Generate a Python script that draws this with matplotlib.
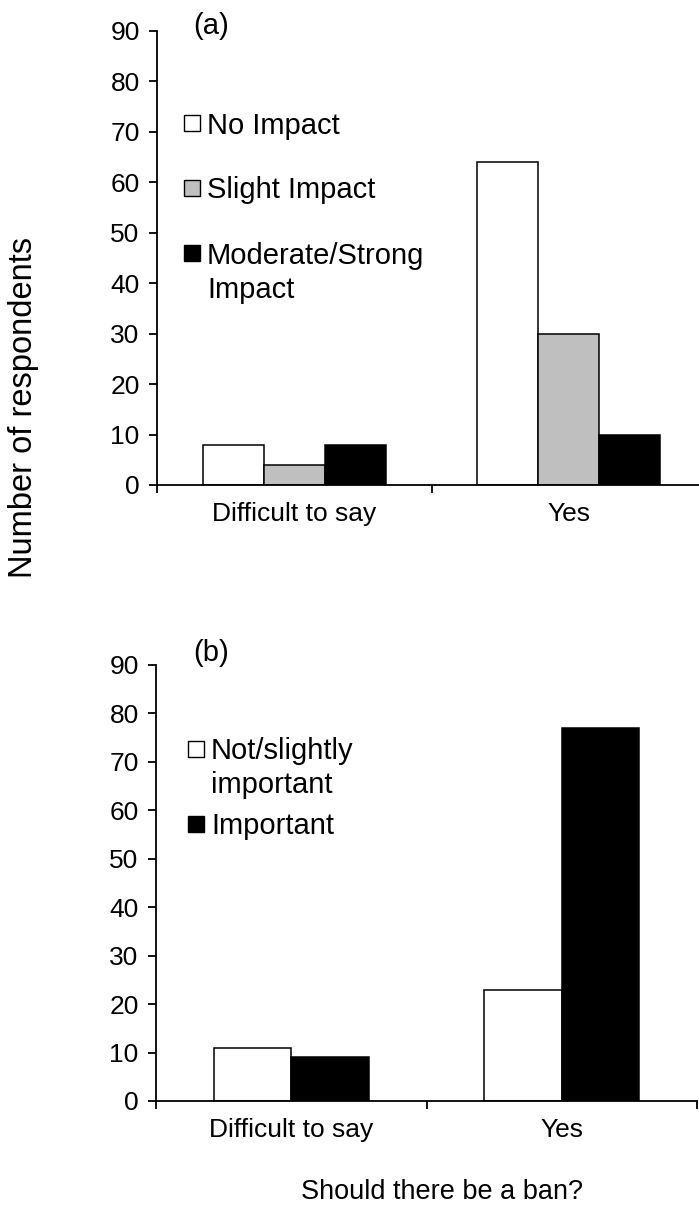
import matplotlib
matplotlib.use("Agg")
import matplotlib.pyplot as plt
from matplotlib.patches import Rectangle
import numpy as np

plt.rcParams['font.family'] = ['Liberation Sans', 'DejaVu Sans']

categories = ["Difficult to say", "Yes"]

# panel (a): impact
impact_labels = ["No Impact", "Slight Impact", "Moderate/Strong\nImpact"]
impact_colors = ["white", "#bfbfbf", "black"]
no_impact = [8, 64]
slight_impact = [4, 30]
strong_impact = [8, 10]

# panel (b): importance
importance_labels = ["Not/slightly\nimportant", "Important"]
importance_colors = ["white", "black"]
not_important = [11, 23]
important = [9, 77]

yticks = list(range(0, 91, 10))

W, H = 699, 1210
LINE_STEP = 34  # px between legend text lines
fig = plt.figure(figsize=(W / 100, H / 100), dpi=100)


def axes_px(left, top, right, bottom):
    ax = fig.add_axes([left / W, 1 - bottom / H, (right - left) / W, (bottom - top) / H])
    ax._px = (left, top, right, bottom)
    return ax


def to_frac(ax, px, py):
    l, t, r, b = ax._px
    return (px - l) / (r - l), (b - py) / (b - t)


def style_axes(ax):
    ax.set_xlim(-0.5, 1.5)
    ax.set_ylim(0, 90)
    ax.set_yticks(yticks)
    ax.set_xticks([-0.5, 0.5, 1.5])
    ax.set_xticklabels([])
    ax.set_xticks([0, 1], minor=True)
    ax.set_xticklabels(categories, minor=True, fontsize=19)
    ax.tick_params(axis='x', which='minor', length=0, pad=12)
    ax.tick_params(axis='x', which='major', length=5.5, width=1.3, direction='out')
    ax.tick_params(axis='y', length=5.5, width=1.3, direction='out', labelsize=19, pad=7)
    for s in ['top', 'right']:
        ax.spines[s].set_visible(False)
    for s in ['left', 'bottom']:
        ax.spines[s].set_linewidth(1.3)
    ax.patch.set_visible(False)


def draw_groups(ax, series, colors):
    n = len(series)
    w = 1 / (n + 1.5)
    x = np.arange(len(categories))
    for i, (vals, c) in enumerate(zip(series, colors)):
        off = (i - (n - 1) / 2) * w
        ax.bar(x + off, vals, width=w, color=c, edgecolor='black', linewidth=1.1, zorder=2)


def draw_legend(ax, labels, colors, sq_x, txt_x, centers):
    for lab, c, cy in zip(labels, colors, centers):
        x0, y0 = to_frac(ax, sq_x, cy + 8)
        x1, y1 = to_frac(ax, sq_x + 16, cy - 8)
        ax.add_patch(Rectangle((x0, y0), x1 - x0, y1 - y0, transform=ax.transAxes,
                               facecolor=c, edgecolor='black', linewidth=1.0, clip_on=False))
        # one text per line so the square lines up with the first line
        for k, line in enumerate(lab.split("\n")):
            tx, ty = to_frac(ax, txt_x, cy + 10.5 + k * LINE_STEP)
            ax.text(tx, ty, line, transform=ax.transAxes, fontsize=21,
                    va='baseline', ha='left')


# panel (a) -- its x axis runs past the right edge of the picture
ax1 = axes_px(157, 31, 706, 485)
style_axes(ax1)
draw_groups(ax1, [no_impact, slight_impact, strong_impact], impact_colors)
fx, fy = to_frac(ax1, 193, 26)
ax1.text(fx, fy, "(a)", transform=ax1.transAxes, fontsize=21, va='center', ha='left')
draw_legend(ax1, impact_labels, impact_colors, 184, 207, [123, 188, 253])

# panel (b)
ax2 = axes_px(156, 665, 697, 1101)
style_axes(ax2)
draw_groups(ax2, [not_important, important], importance_colors)
fx, fy = to_frac(ax2, 193, 653)
ax2.text(fx, fy, "(b)", transform=ax2.transAxes, fontsize=21, va='center', ha='left')
draw_legend(ax2, importance_labels, importance_colors, 188, 211, [749, 824])

fig.text(24 / W, 1 - 408 / H, "Number of respondents", rotation=90, fontsize=23.5,
         ha='center', va='center')
fig.text(442 / W, 1 - 1192 / H, "Should there be a ban?", fontsize=19.5,
         ha='center', va='center')

fig.savefig("out.png", dpi=100)
